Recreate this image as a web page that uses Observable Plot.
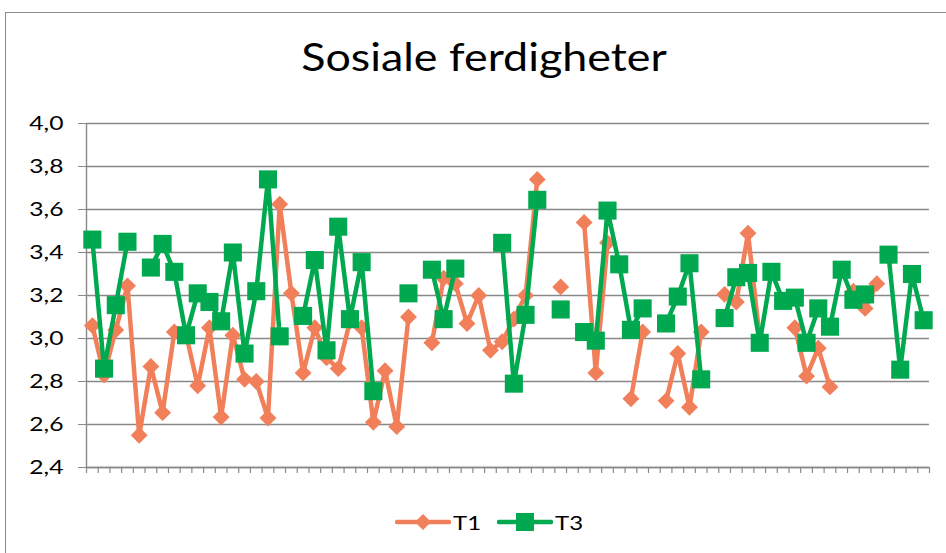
<!DOCTYPE html>
<html>
<head>
<meta charset="utf-8">
<script src="https://cdn.jsdelivr.net/npm/d3@7"></script>
<script src="https://cdn.jsdelivr.net/npm/@observablehq/plot@0.6"></script>
<style>
  body { margin: 0; background: #fff; font-family: Lato, "Liberation Sans", sans-serif; }
  #wrap { position: relative; width: 946px; height: 553px; overflow: hidden; background: #fff; }
  #frame { position: absolute; left: 5px; top: 12px; width: 1000px; height: 700px;
           border-left: 1.5px solid #8a8a8a; border-top: 1.5px solid #8a8a8a; }
  #title { position: absolute; left: 0; top: 37px; width: 968px; text-align: center;
           font-size: 38px; color: #000; line-height: 1; transform: scaleX(1.18); transform-origin: 484px 0; }
  #chart { position: absolute; left: 0; top: 100px; }
  #legend { position: absolute; left: 0; top: 506px; width: 946px; height: 32px; font-size: 20px; color: #000; }
  .item { position: absolute; top: 0; height: 32px; display: flex; align-items: center; }
  .item span { margin-left: 2px; display: inline-block; transform: scaleX(1.2); transform-origin: left center; }
</style>
</head>
<body>
<div id="wrap">
  <div id="frame"></div>
  <div id="title">Sosiale ferdigheter</div>
  <div id="chart"></div>
  <div id="legend"></div>
</div>
<script>
// ---- data ----
const categories = [1,2,3,4,5,6,7,8,9,10,11,12,13,14,15,16,17,18,19,20,
  21,22,23,24,25,26,27,28,29,30,31,32,33,34,35,36,37,38,39,40,
  41,42,43,44,45,46,47,48,49,50,51,52,53,54,55,56,57,58,59,60,
  61,62,63,64,65,66,67,68,69,70,71,72];

const T1 = [3.06,2.83,3.04,3.245,2.55,2.87,2.655,3.03,3.02,2.78,
  3.05,2.635,3.015,2.81,2.80,2.63,3.625,3.21,2.84,3.05,
  2.91,2.86,3.08,3.05,2.61,2.85,2.59,3.10,null,2.98,
  3.28,3.255,3.07,3.20,2.945,2.985,3.09,3.20,3.74,null,
  3.24,null,3.54,2.84,3.445,null,2.72,3.03,null,2.71,
  2.93,2.68,3.03,null,3.205,3.17,3.49,3.00,null,null,
  3.05,2.825,2.955,2.775,null,3.22,3.14,3.255,null,null,
  null,null];

const T3 = [3.46,2.86,3.155,3.45,null,3.33,3.44,3.31,3.015,3.21,
  3.17,3.08,3.40,2.93,3.22,3.74,3.01,null,3.105,3.365,
  2.945,3.52,3.09,3.355,2.755,null,null,3.21,null,3.32,
  3.09,3.325,null,null,null,3.445,2.79,3.11,3.645,null,
  3.135,null,3.03,2.99,3.595,3.345,3.04,3.14,null,3.07,
  3.195,3.35,2.81,null,3.095,3.285,3.305,2.98,3.31,3.175,
  3.19,2.98,3.14,3.055,3.32,3.18,3.205,null,3.39,2.855,
  3.30,3.085];

const yTicks = [2.4, 2.6, 2.8, 3.0, 3.2, 3.4, 3.6, 3.8, 4.0];
const seriesNames = ["T1", "T3"];
const seriesColors = ["#F07F5A", "#00A94F"];

// ---- chart ----
const rows = categories.map((c, i) => ({ c, t1: T1[i], t3: T3[i] }));
const xBounds = [categories[0] - 0.5, categories[categories.length - 1] + 0.5];
const xTickPos = d3.range(xBounds[0], xBounds[1] + 0.01, 1);
const grid = "#898989";

const chart = Plot.plot({
  width: 946,
  height: 390,
  marginLeft: 86,
  marginRight: 17,
  marginTop: 23,
  marginBottom: 23,
  style: { fontFamily: "Lato, 'Liberation Sans', sans-serif", background: "transparent", overflow: "visible" },
  x: { type: "linear", domain: xBounds, label: null },
  y: { domain: [yTicks[0], yTicks[yTicks.length - 1]], label: null },
  marks: [
    Plot.gridY(yTicks, { stroke: grid, strokeOpacity: 1, strokeWidth: 1.4 }),
    Plot.axisY(yTicks, { tickSize: 8, tickPadding: 15, stroke: grid, fill: "#000", fontSize: 19, label: null,
      tickFormat: d => d.toFixed(1).replace(".", ",") }),
    Plot.axisX(xTickPos, { tickSize: 6, tickFormat: () => "", stroke: grid, strokeWidth: 1.2, label: null }),
    Plot.ruleY([yTicks[0]], { stroke: grid, strokeWidth: 1.4 }),
    Plot.ruleX([xBounds[0]], { stroke: grid, strokeWidth: 1.4 }),
    Plot.line(rows, { x: "c", y: "t1", stroke: seriesColors[0], strokeWidth: 4.5, strokeLinejoin: "round" }),
    Plot.dot(rows, { x: "c", y: "t1", symbol: "diamond2", r: 7.6, fill: seriesColors[0], stroke: "none" }),
    Plot.line(rows, { x: "c", y: "t3", stroke: seriesColors[1], strokeWidth: 4.5, strokeLinejoin: "round" }),
    Plot.dot(rows, { x: "c", y: "t3", symbol: "square", r: 10.2, fill: seriesColors[1], stroke: "none" })
  ]
});
// widen the y tick labels slightly (the reference font is broader), keeping their right edge
chart.querySelectorAll('g[aria-label="y-axis tick label"] text').forEach(t => {
  const tr = t.getAttribute("transform") || "";
  t.setAttribute("transform", tr + " scale(1.3,1)");
});
document.getElementById("chart").appendChild(chart);

// ---- legend ----
const legend = document.getElementById("legend");
const legendX = [395, 497];
seriesNames.forEach((name, i) => {
  const item = document.createElement("div");
  item.className = "item";
  item.style.left = legendX[i] + "px";
  const marker = i === 0
    ? `<polygon points="28,8 36,16 28,24 20,16" fill="${seriesColors[i]}"/>`
    : `<rect x="19" y="7" width="18" height="18" fill="${seriesColors[i]}"/>`;
  item.innerHTML = `<svg width="56" height="32"><line x1="2" y1="16" x2="54" y2="16" stroke="${seriesColors[i]}" stroke-width="4.5" stroke-linecap="round"/>${marker}</svg><span>${name}</span>`;
  legend.appendChild(item);
});
</script>
</body>
</html>
